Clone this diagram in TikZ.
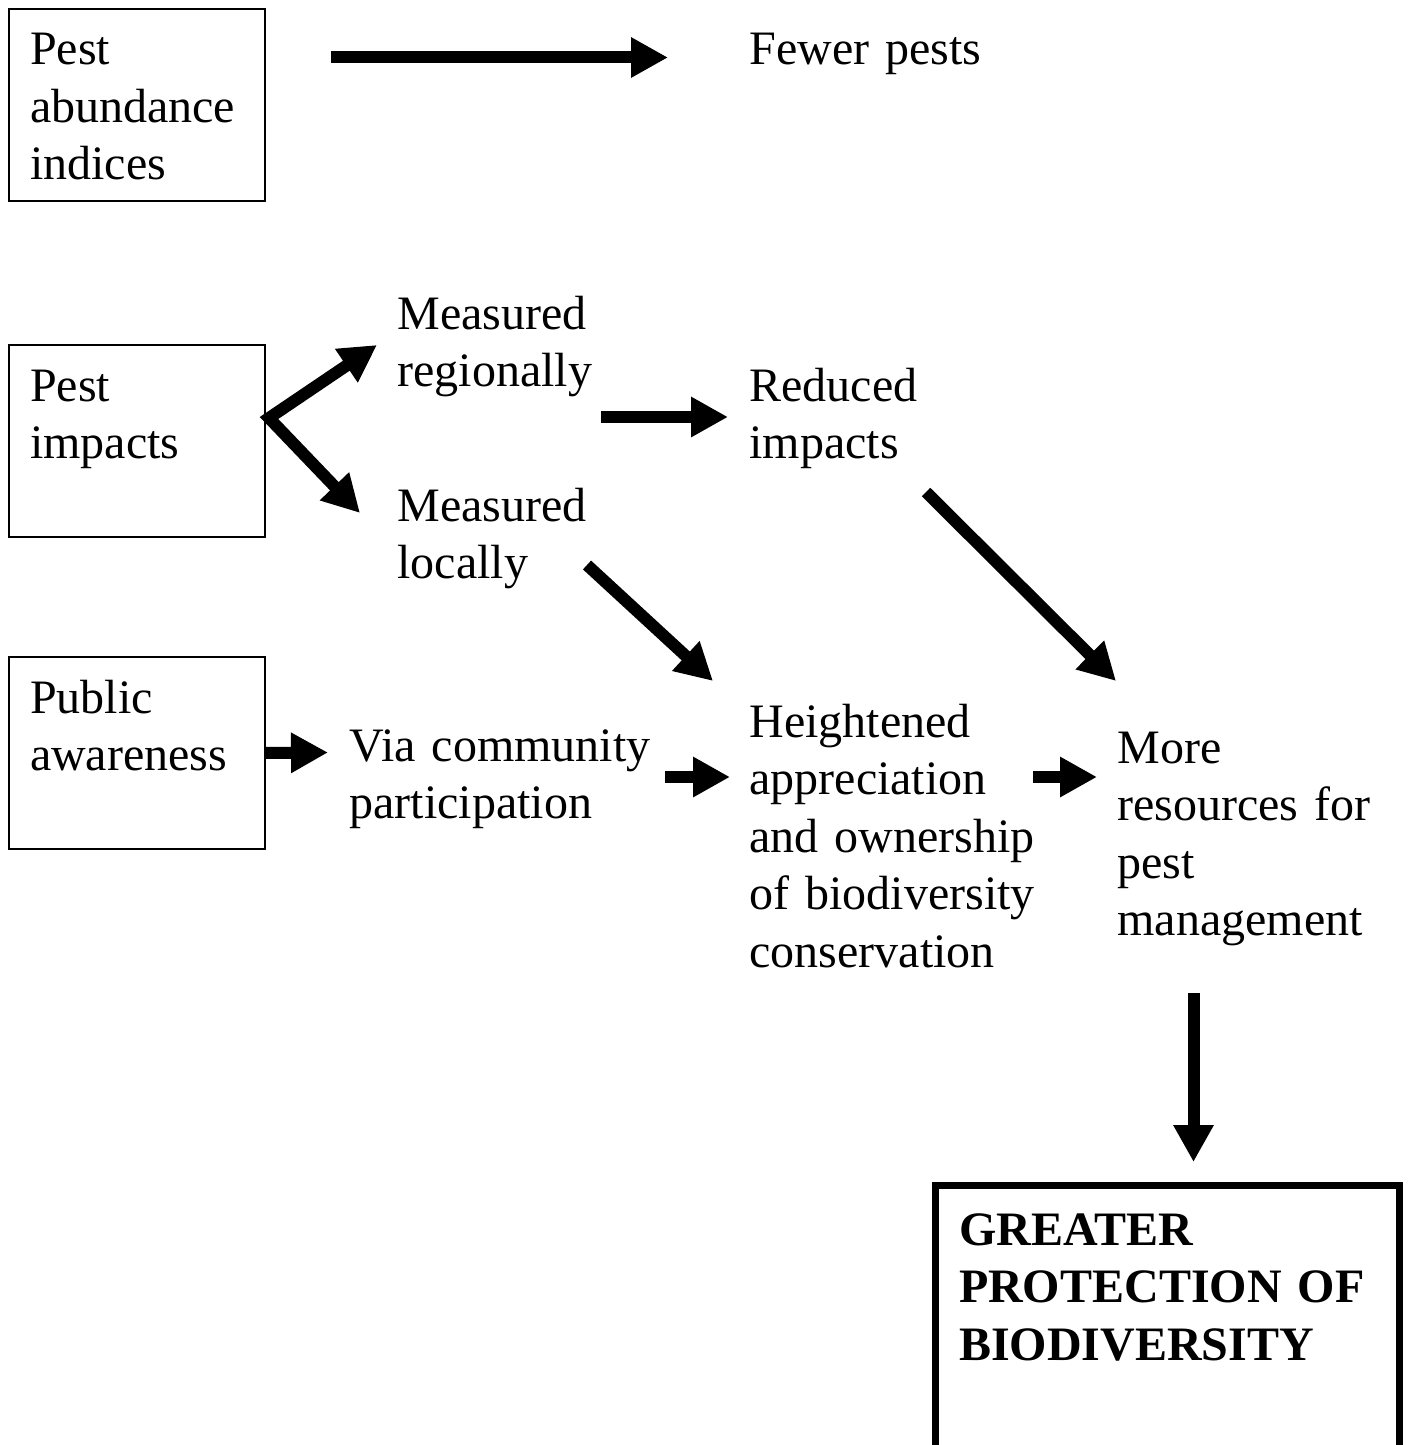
\documentclass[tikz,border=0pt]{standalone}
\usepackage{fontspec}
\setmainfont{Liberation Serif}
\usetikzlibrary{arrows.meta}
\tikzset{
  txt/.style={anchor=base west, inner sep=0pt, text width=160pt, align=left},
  frame/.style={draw, line width=1pt, anchor=north west, outer sep=0pt,
    inner xsep=10.5pt, inner ysep=0pt, text width=107pt, align=left,
    text height=28pt, text depth=68pt},
  goal/.style={draw, line width=3.5pt, anchor=north west, outer sep=0pt,
    inner xsep=11.75pt, inner ysep=0pt, text width=208.5pt, align=left,
    text height=29.75pt, text depth=130pt,
    font=\fontsize{24pt}{28.75pt}\selectfont\bfseries},
  fat/.style={line width=6pt, ->}
}
\begin{document}
\begin{tikzpicture}[x=0.5pt,y=-0.5pt,
    font=\fontsize{24pt}{28.75pt}\selectfont,
    >={Triangle[length=18.5pt,width=19pt]}]
        \useasboundingbox (0,0) rectangle (1408,1445);
        \clip (0,0) rectangle (1408,1445);
        % boxes on the left
        \node[frame] at (9,9)   (abund)   {Pest\\abundance\\indices};
        \node[frame] at (9,345) (impacts) {Pest\\impacts};
        \node[frame] at (9,657) (public)  {Public\\awareness};
        % outcomes
        \node[txt] at (749,65)  (fewer)    {Fewer pests};
        \node[txt] at (397,329) (regional) {Measured\\regionally};
        \node[txt] at (749,401) (reduced)  {Reduced\\impacts};
        \node[txt] at (397,521) (local)    {Measured\\locally};
        \node[txt] at (349,761) (via)      {Via community\\participation};
        \node[txt] at (749,737) (heighten) {Heightened\\appreciation\\and ownership\\of biodiversity\\conservation};
        \node[txt] at (1117,763) (more)    {More\\resources for\\pest\\management};
        \node[goal] at (935.5,1185.5) (protect) {GREATER\\PROTECTION OF\\BIODIVERSITY};
        \coordinate (fork) at ([shift={(4,-23)}]impacts.east);
        % arrows
        \draw[fat] ([shift={(66,48.5)}]abund.north east) -- ([shift={(-81,-7.5)}]fewer.base west);
        \draw[fat,<->,line join=miter] ([shift={(-20,16)}]regional.base west) -- (fork) -- ([shift={(-37,-8)}]local.base west);
        \draw[fat] ([shift={(204,88)}]regional.base west) -- ([shift={(-21,16)}]reduced.base west);
        \draw[fat] ([shift={(190,44)}]local.base west) -- ([shift={(-36,-56)}]heighten.base west);
        \draw[fat] ([shift={(177,91)}]reduced.base west) -- ([shift={(-1,-82)}]more.base west);
        \draw[fat] (public.east) -- ([shift={(-21,-8.5)}]via.base west);
        \draw[fat] ([shift={(316,16)}]via.base west) -- ([shift={(-19,40)}]heighten.base west);
        \draw[fat] ([shift={(284,40)}]heighten.base west) -- ([shift={(-20,14)}]more.base west);
        \draw[fat] ([shift={(76.5,230)}]more.base west) -- ([shift={(26,-23.5)}]protect.north);
      \end{tikzpicture}
\end{document}
